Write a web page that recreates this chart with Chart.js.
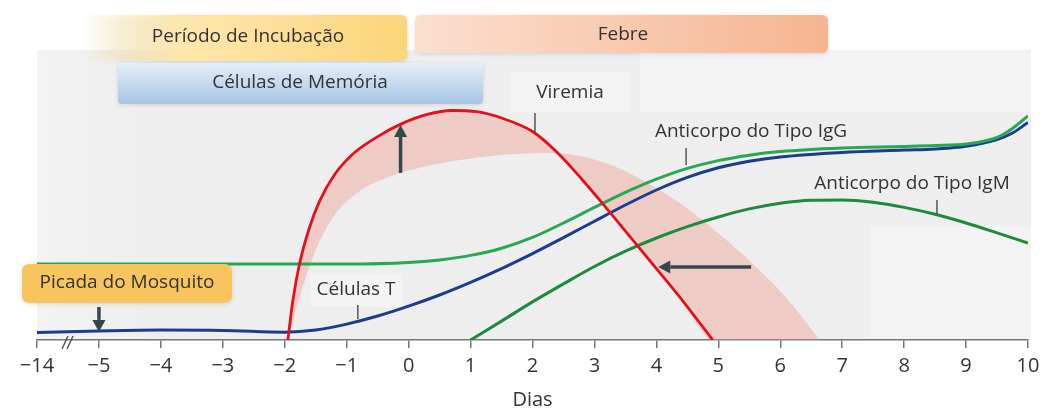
<!DOCTYPE html>
<html>
<head>
<meta charset="utf-8">
<script src="https://cdn.jsdelivr.net/npm/chart.js@4.4.1/dist/chart.umd.min.js"></script>
<style>
html,body{margin:0;padding:0;background:#fff;}
#wrap{width:1040px;height:412px;}
</style>
</head>
<body>
<div id="wrap"><canvas id="c" width="1040" height="412"></canvas></div>
<script>
// Broken axis: axis position -6 stands for day -14
const tickValues = [-6,-5,-4,-3,-2,-1,0,1,2,3,4,5,6,7,8,9,10];
const tickLabels = ['−14','−5','−4','−3','−2','−1','0','1','2','3','4','5','6','7','8','9','10'];

const igGDays   = [-6,-5,-4,-3,-2,-1,0,0.5,1,1.5,2,2.5,3,3.5,4,4.5,5,5.5,6,7,8,8.5,9,9.5,9.75,10];
const igGValues = [25.3,25.3,25.3,25.3,25.3,25.3,25.8,26.7,28.2,30.6,34.2,39,44.2,49.2,53.6,57.2,59.8,61.6,62.8,64,64.5,64.8,65.3,67.5,70.5,74.7];

const tCellDays   = [-6,-5,-4,-3,-2,-1.5,-1,-0.5,0,0.5,1,1.5,2,2.5,3,3.5,4,4.5,5,5.5,6,7,8,8.5,9,9.5,9.75,10];
const tCellValues = [2.5,3,3.3,3.2,2.6,3.3,5.3,8,11.3,15,19.2,23.8,28.8,34.1,39.6,45,50,54.2,57.4,59.6,61,62.5,63.3,63.7,64.6,66.8,69,72.5];

const igMDays   = [1,1.5,2,2.5,3,3.5,4,4.5,5,5.5,6,6.5,7,7.5,8,8.5,9,9.5,10];
const igMValues = [0,6.3,12.7,18.7,24.5,29.6,34,37.8,41,43.7,45.6,46.6,46.7,45.9,44.2,41.9,39,35.7,32.3];

const viremiaDays   = [-1.95,-1.87,-1.76,-1.6,-1.44,-1.2,-0.9,-0.5,-0.1,0.3,0.7,1.1,1.5,2.0,2.4,2.8,3.2,3.6,4.0,4.45,4.91];
const viremiaValues = [0,13,25.5,37.5,46.2,55,62,67.8,72.2,75.2,76.5,76.1,74,69.5,62.5,53.5,43.8,33.8,23.8,12.4,0];

// outer edge of the shaded viremia band
const bandDays   = [-1.95,-1.75,-1.5,-1.2,-0.8,-0.3,0.3,1.0,1.7,2.3,2.76,3.2,3.6,4.0,4.4,5.0,5.5,6.1,6.64];
const bandValues = [0,15,30,41.5,49.5,54.5,58,60.5,62,62.3,61.3,58.8,55.2,50.7,45.3,35.6,26.5,14,0];
const bandEndDay = 6.64;

const pts = (xs, ys) => xs.map((x, i) => ({x, y: ys[i]}));
// viremia curve continued along the baseline so the band can be filled against it
const viremiaEdge = pts(viremiaDays, viremiaValues).concat([{x: bandEndDay, y: 0}]);

const FONT = '"Open Sans", sans-serif';
Chart.defaults.font.family = FONT;

function rr(ctx, x, y, w, h, r) { ctx.beginPath(); ctx.roundRect(x, y, w, h, r); }
function arrow(ctx, x1, y1, x2, y2) {
  const ang = Math.atan2(y2 - y1, x2 - x1), hl = 12, hw = 6.5;
  const bx = x2 - hl * Math.cos(ang), by = y2 - hl * Math.sin(ang);
  ctx.strokeStyle = ctx.fillStyle = '#34474c';
  ctx.lineWidth = 3.5;
  ctx.beginPath(); ctx.moveTo(x1, y1); ctx.lineTo(bx, by); ctx.stroke();
  ctx.beginPath(); ctx.moveTo(x2, y2);
  ctx.lineTo(bx - hw * Math.sin(ang), by + hw * Math.cos(ang));
  ctx.lineTo(bx + hw * Math.sin(ang), by - hw * Math.cos(ang));
  ctx.closePath(); ctx.fill();
}
function text(ctx, s, x, y, align) {
  ctx.fillStyle = '#333';
  ctx.font = '19px ' + FONT;
  ctx.textAlign = align || 'center';
  ctx.textBaseline = 'middle';
  ctx.fillText(s, x, y);
}

const decor = {
  id: 'decor',
  beforeDraw(chart) {
    const {ctx, chartArea: a} = chart;
    ctx.save();
    ctx.fillStyle = '#fff';
    ctx.fillRect(0, 0, chart.width, chart.height);
    const g = ctx.createLinearGradient(a.left, 0, a.left + 120, 0);
    g.addColorStop(0, '#f3f3f3'); g.addColorStop(1, '#eeeeee');
    ctx.fillStyle = g;
    ctx.fillRect(a.left, 50, a.right + 3 - a.left, a.bottom - 50);
    ctx.fillStyle = '#f3f3f3';
    rr(ctx, 640, 50, a.right + 3 - 640, 62, [0, 8, 0, 0]); ctx.fill();
    ctx.fillRect(510, 72, 120, 40);
    ctx.fillRect(870, 225, a.right + 3 - 870, a.bottom - 225);
    ctx.fillRect(310, 273, 93, 34);
    ctx.restore();
  },
  afterDatasetsDraw(chart) {
    const {ctx} = chart;
    const X = v => chart.scales.x.getPixelForValue(v);
    const Y = v => chart.scales.y.getPixelForValue(v);
    ctx.save();
    ctx.strokeStyle = '#555'; ctx.lineWidth = 1.5;
    [[-0.82, 11.7, 7], [2.04, 75.7, 69], [4.48, 64, 58.3], [8.53, 46.7, 41.7]].forEach(([d, y1, y2]) => {
      ctx.beginPath(); ctx.moveTo(X(d), Y(y1)); ctx.lineTo(X(d), Y(y2)); ctx.stroke();
    });
    arrow(ctx, X(-5), Y(11), X(-5), Y(2.7));
    arrow(ctx, X(-0.13), Y(55.7), X(-0.13), Y(71.7));
    arrow(ctx, X(5.53), Y(24.3), X(4.03), Y(24.3));
    ctx.strokeStyle = '#555'; ctx.lineWidth = 1.5;
    [[62, 68], [67, 73]].forEach(([x1, x2]) => {
      ctx.beginPath(); ctx.moveTo(x1, 349); ctx.lineTo(x2, 336); ctx.stroke();
    });

    ctx.shadowColor = 'rgba(0,0,0,0.12)'; ctx.shadowBlur = 4; ctx.shadowOffsetY = 1;
    let gr = ctx.createLinearGradient(83, 0, 407, 0);
    gr.addColorStop(0, 'rgba(254,232,170,0)');
    gr.addColorStop(0.3, '#fee7ae');
    gr.addColorStop(1, '#fcd57a');
    ctx.fillStyle = gr; rr(ctx, 83, 15, 324, 46, 6); ctx.fill();
    gr = ctx.createLinearGradient(415, 0, 828, 0);
    gr.addColorStop(0, '#fbdfd0'); gr.addColorStop(1, '#f5b590');
    ctx.fillStyle = gr; rr(ctx, 415, 15, 413, 38, 6); ctx.fill();
    gr = ctx.createLinearGradient(0, 63, 0, 104);
    gr.addColorStop(0, '#e6eff8'); gr.addColorStop(1, '#a6c5e5');
    ctx.fillStyle = gr; rr(ctx, 118, 63, 365, 41, 4); ctx.fill();
    ctx.fillStyle = '#f8c45e'; rr(ctx, 22, 264, 210, 39, 7); ctx.fill();
    ctx.shadowColor = 'transparent';

    text(ctx, 'Período de Incubação', 248, 37);
    text(ctx, 'Febre', 623, 35);
    text(ctx, 'Células de Memória', 300, 83);
    text(ctx, 'Picada do Mosquito', 127, 283);
    text(ctx, 'Viremia', 570, 93);
    text(ctx, 'Células T', 356, 290);
    text(ctx, 'Anticorpo do Tipo IgG', 751, 132);
    text(ctx, 'Anticorpo do Tipo IgM', 912, 184);
    ctx.restore();
  }
};

const mono = {cubicInterpolationMode: 'monotone', pointRadius: 0};
const bandColor = 'rgba(238,150,135,0.4)';
new Chart(document.getElementById('c'), {
  type: 'line',
  data: {
    datasets: [
      {label: 'Viremia', data: pts(viremiaDays, viremiaValues), borderColor: '#e3101d', borderWidth: 2.8, fill: false, ...mono},
      {label: 'Anticorpo do Tipo IgM', data: pts(igMDays, igMValues), borderColor: '#1d8a3e', borderWidth: 3, fill: false, ...mono},
      {label: 'Anticorpo do Tipo IgG', data: pts(igGDays, igGValues), borderColor: '#27a853', borderWidth: 3, fill: false, ...mono},
      {label: 'Células T', data: pts(tCellDays, tCellValues), borderColor: '#1b3d8c', borderWidth: 3, fill: false, ...mono},
      {label: 'band', data: pts(bandDays, bandValues), borderWidth: 0, borderColor: 'rgba(0,0,0,0)',
       backgroundColor: bandColor, fill: {target: 5, above: bandColor, below: bandColor}, ...mono},
      {label: 'edge', data: viremiaEdge, borderWidth: 0, borderColor: 'rgba(0,0,0,0)', fill: false, ...mono}
    ]
  },
  options: {
    responsive: false,
    animation: false,
    devicePixelRatio: 1,
    layout: {padding: {left: 37, right: 12, top: 40, bottom: 0}},
    plugins: {legend: {display: false}, tooltip: {enabled: false}},
    scales: {
      x: {
        type: 'linear', min: -6, max: 10,
        afterBuildTicks: s => { s.ticks = tickValues.map(v => ({value: v})); },
        afterFit: s => { s.paddingLeft = 0; s.paddingRight = 0; },
        ticks: {
          autoSkip: false, maxRotation: 0, padding: 6,
          color: '#333', font: {size: 20, family: FONT},
          callback: v => tickLabels[tickValues.indexOf(v)]
        },
        grid: {drawOnChartArea: false, drawTicks: true, tickLength: 8, color: '#777', lineWidth: 1.5},
        border: {display: true, color: '#777', width: 1.5},
        title: {display: true, text: 'Dias', color: '#333', font: {size: 20, family: FONT}, padding: {top: 4, bottom: 0}}
      },
      y: {display: false, min: 0, max: 100}
    }
  },
  plugins: [decor]
});
</script>
</body>
</html>
